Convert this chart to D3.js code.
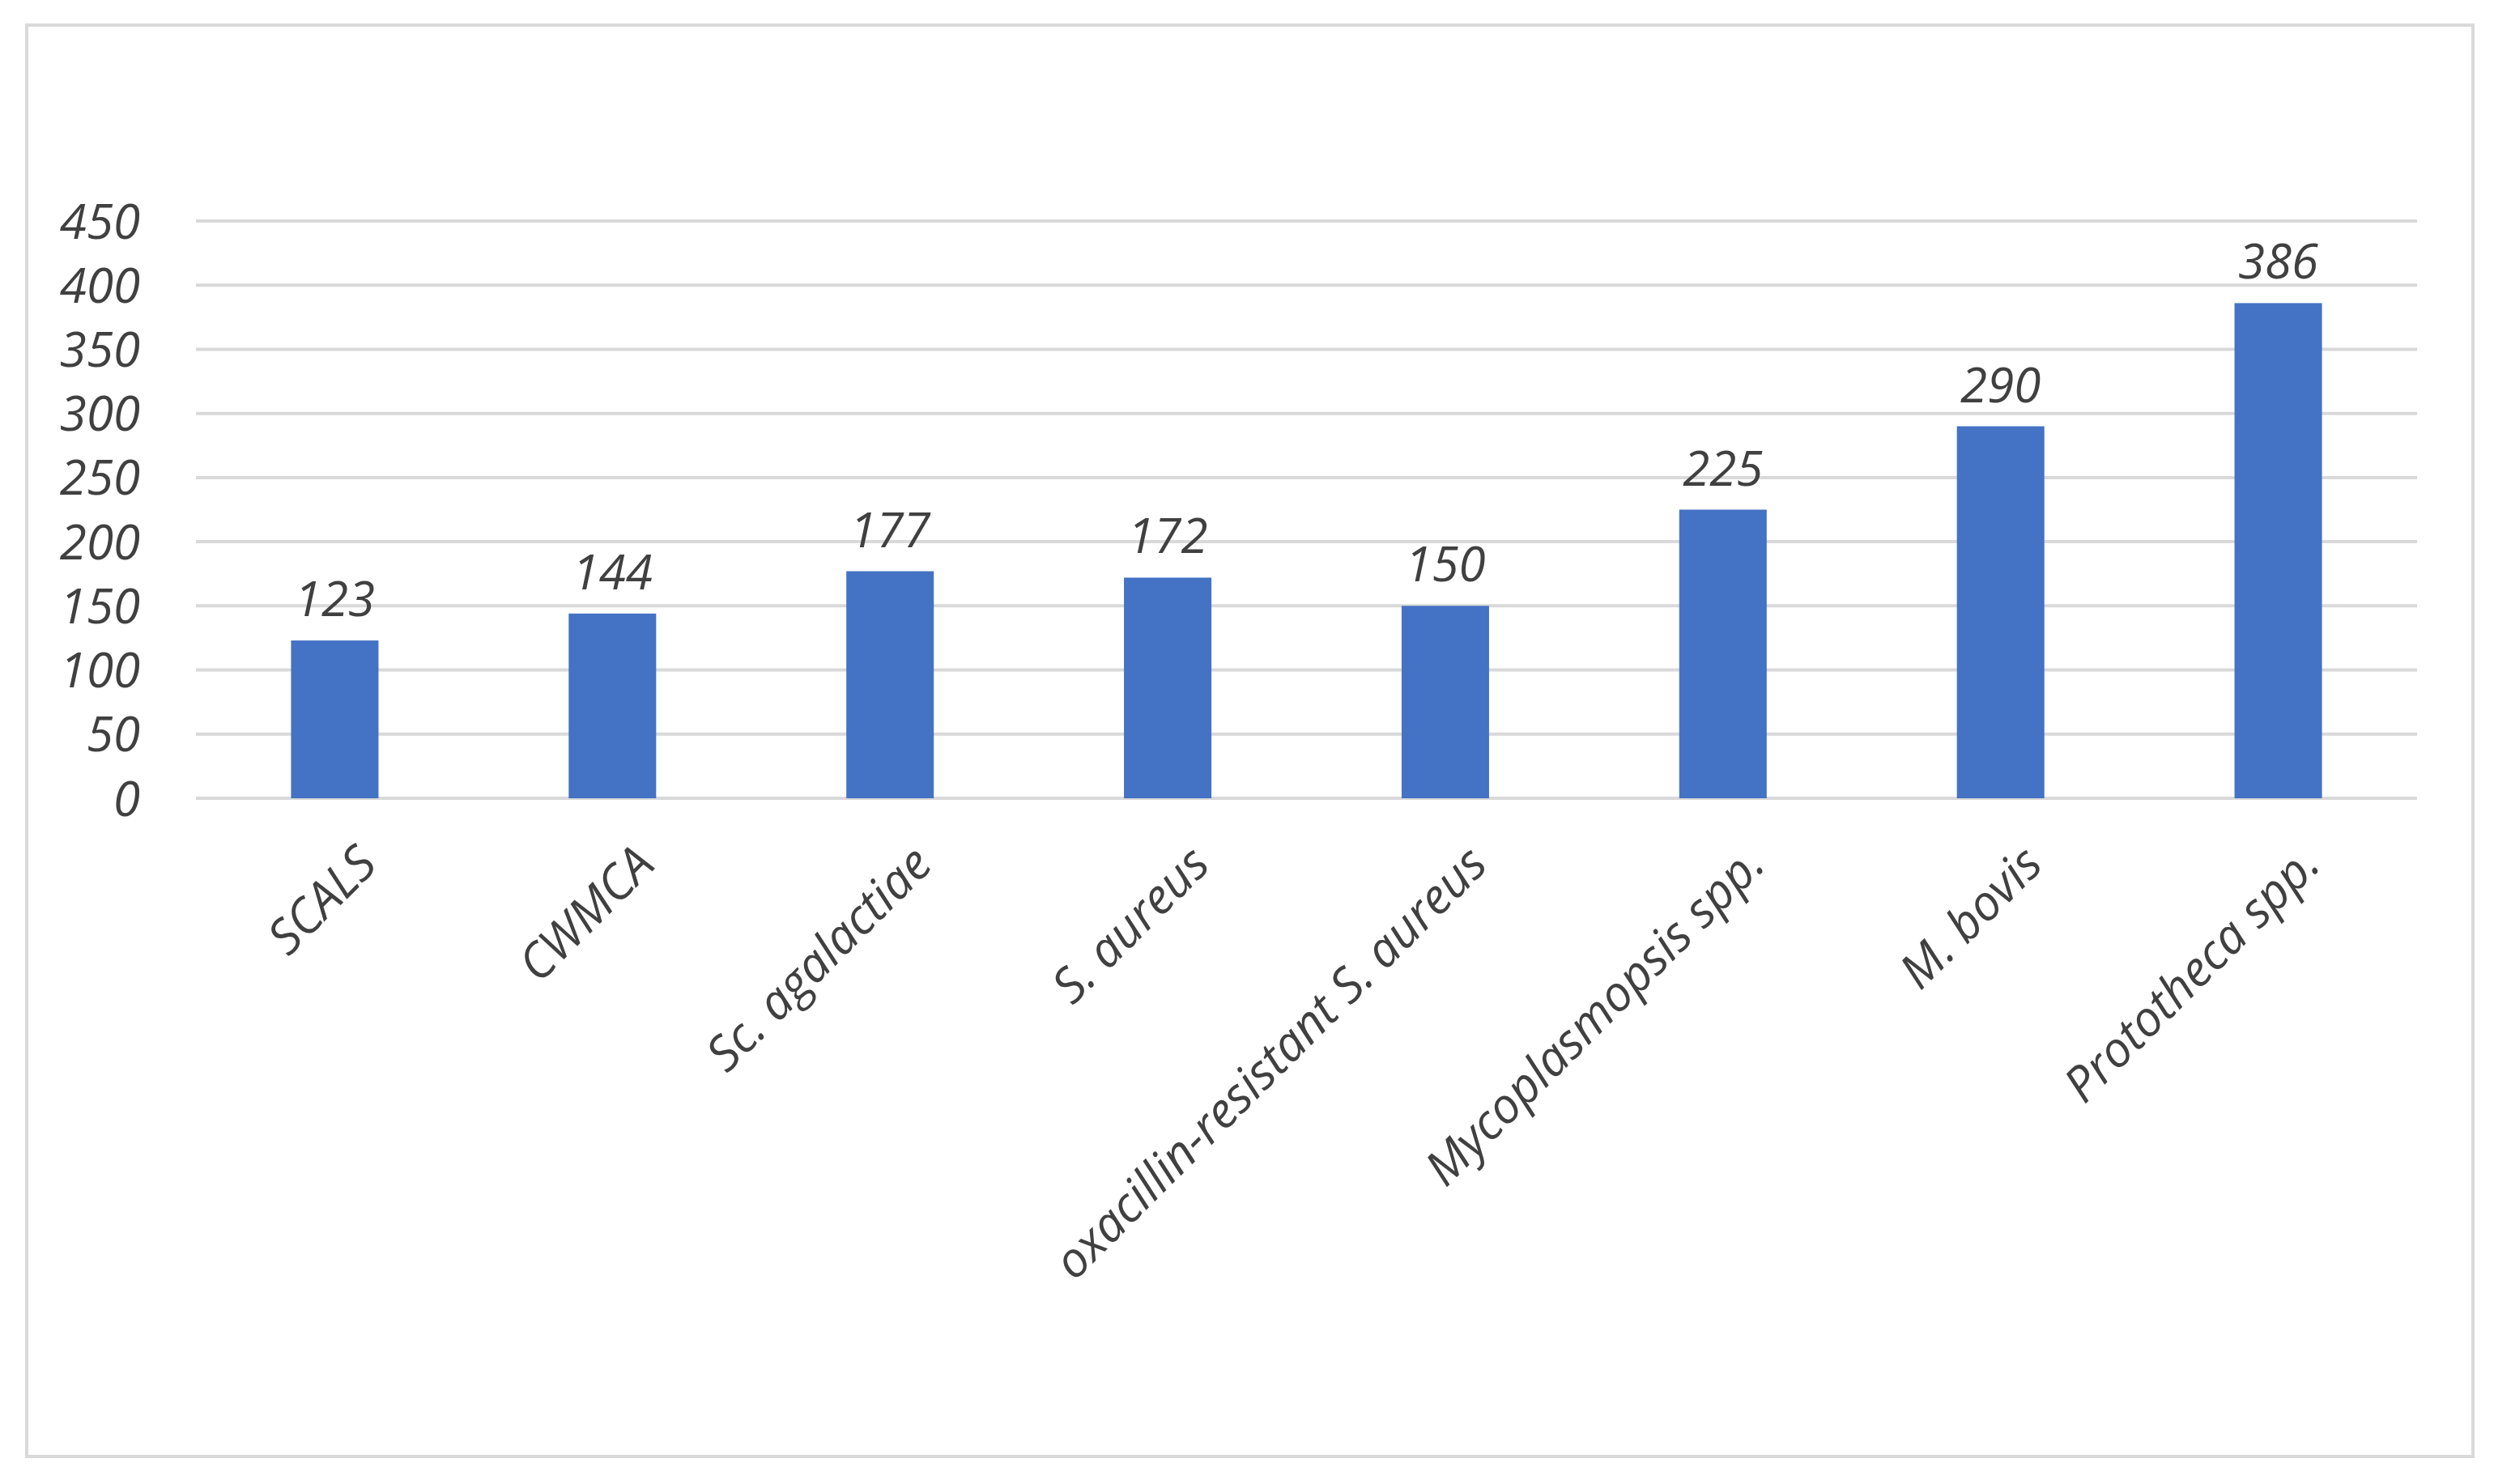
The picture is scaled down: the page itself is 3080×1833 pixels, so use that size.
<!DOCTYPE html>
<html><head><meta charset="utf-8">
<script src="https://cdn.jsdelivr.net/npm/d3@7"></script>
<style>body{margin:0;background:#fff}text{font-family:"Open Sans",sans-serif;font-style:italic;fill:#404040}</style>
</head><body><svg id="chart" width="3080" height="1833"></svg>
<script>
const categories = ["SCALS","CWMCA","Sc. agalactiae","S. aureus","oxacillin-resistant S. aureus","Mycoplasmopsis spp.","M. bovis","Prototheca spp."];
const values = [123,144,177,172,150,225,290,386];
const yTicks = [0,50,100,150,200,250,300,350,400,450];

const svg = d3.select("#chart");
svg.append("rect").attr("x",33).attr("y",31).attr("width",3021).attr("height",1768)
  .attr("fill","#fff").attr("stroke","#d9d9d9").attr("stroke-width",4);

const m = {left:242, right:2985, top:273, bottom:986};
const x = d3.scaleBand().domain(categories).range([m.left,m.right]).paddingInner(0.685).paddingOuter(0.3425);
const y = d3.scaleLinear().domain([0,450]).range([m.bottom,m.top]);

svg.append("g").selectAll("line").data(yTicks).join("line")
  .attr("x1",m.left).attr("x2",m.right).attr("y1",d=>y(d)).attr("y2",d=>y(d))
  .attr("stroke","#d9d9d9").attr("stroke-width",4);

svg.append("g").selectAll("text").data(yTicks).join("text")
  .attr("x",173).attr("y",d=>y(d)).attr("dy","0.36em").attr("text-anchor","end")
  .attr("font-size",60).text(d=>d);

svg.append("g").selectAll("rect").data(values).join("rect")
  .attr("x",(d,i)=>x(categories[i])).attr("width",x.bandwidth())
  .attr("y",d=>y(d)).attr("height",d=>y(0)-y(d)).attr("fill","#4472c4");

svg.append("g").selectAll("text").data(values).join("text")
  .attr("x",(d,i)=>x(categories[i])+x.bandwidth()/2).attr("y",d=>y(d)-30)
  .attr("text-anchor","middle").attr("font-size",60).text(d=>d);

svg.append("g").selectAll("text").data(categories).join("text")
  .attr("transform",d=>`translate(${x(d)+x.bandwidth()/2+25},${m.bottom+55}) rotate(-45)`)
  .attr("text-anchor","end").attr("dy","0.7em").attr("font-size",60).text(d=>d);
</script></body></html>
